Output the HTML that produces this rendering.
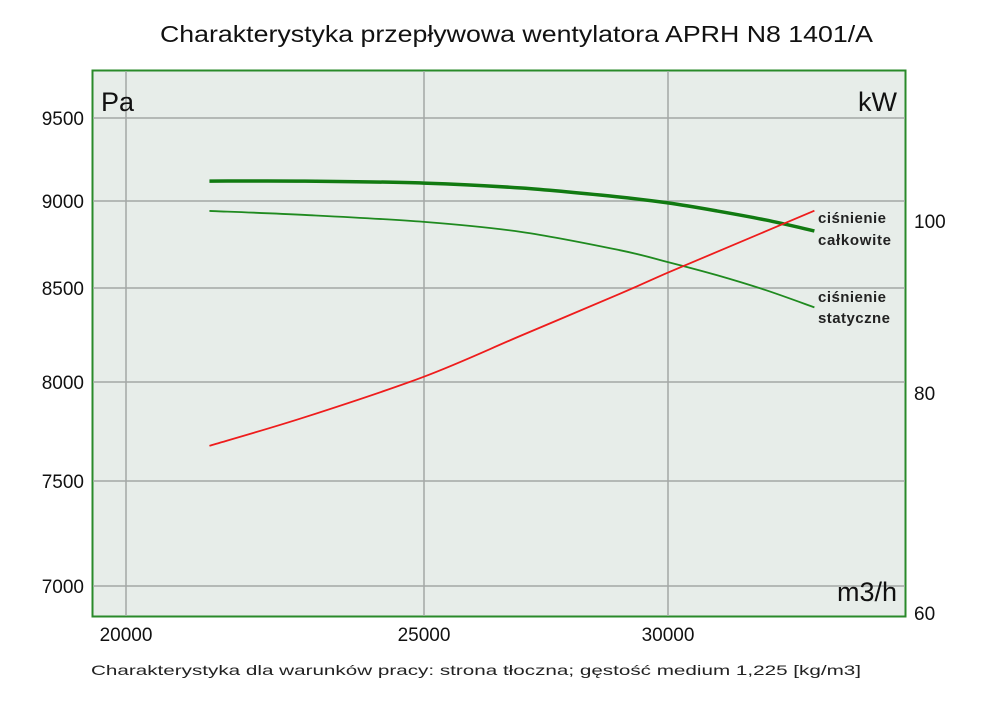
<!DOCTYPE html>
<html><head><meta charset="utf-8"><style>
body{margin:0;background:#fff;}
svg text{font-family:"Liberation Sans",sans-serif;}
</style></head><body>
<svg id="chart" width="1000" height="706" viewBox="0 0 1000 706" xmlns="http://www.w3.org/2000/svg">
<text x="160" y="42" font-size="23" textLength="713" lengthAdjust="spacingAndGlyphs" fill="#111">Charakterystyka przepływowa wentylatora APRH N8 1401/A</text>
<rect x="92.5" y="70.5" width="813" height="546" fill="#e7ede9" stroke="#2a8a2a" stroke-width="2"/>
<g id="grid"></g>
<g id="ticks"></g>
<g id="series"></g>
<text x="101" y="111" font-size="27" fill="#111">Pa</text>
<text x="897" y="111" font-size="27" text-anchor="end" fill="#111">kW</text>
<text x="897" y="601" font-size="27" text-anchor="end" fill="#111">m3/h</text>
<text x="818" y="223" font-size="15" font-weight="bold" textLength="68" fill="#222">ciśnienie</text>
<text x="818" y="245" font-size="15" font-weight="bold" textLength="73" fill="#222">całkowite</text>
<text x="818" y="302" font-size="15" font-weight="bold" textLength="68" fill="#222">ciśnienie</text>
<text x="818" y="323" font-size="15" font-weight="bold" textLength="72" fill="#222">statyczne</text>
<text x="91" y="675" font-size="14" textLength="770" lengthAdjust="spacingAndGlyphs" fill="#222">Charakterystyka dla warunków pracy: strona tłoczna; gęstość medium 1,225 [kg/m3]</text>
</svg>
<script>
const flowTicks=[20000,25000,30000];
const paTicks=[9500,9000,8500,8000,7500,7000];
const kwTicks=[100,80,60];
const flow=[21400,23000,25000,27000,29000,30000,31000,32000,33000];
const totalPa=[9120,9120,9108,9078,9024,8989,8943,8891,8828];
const staticPa=[8943,8920,8880,8822,8718,8649,8574,8489,8397];
const powerKw=[75.2,77.8,81.9,86.7,91.5,94.0,96.4,98.8,101.2];
// piecewise axis calibration (chart axes are non-linear)
const xCal=[[20000,126],[25000,424],[30000,668]];
const yCal=[[9500,118],[9000,201],[8500,288],[8000,382],[7500,481],[7000,586]];
const kCal=[[100,221],[80,393],[60,613]];
function pw(cal,v){
  const c=cal.slice().sort((a,b)=>a[0]-b[0]);
  let i=0; while(i<c.length-2 && v>c[i+1][0]) i++;
  const [a0,p0]=c[i],[a1,p1]=c[i+1];
  return p0+(v-a0)*(p1-p0)/(a1-a0);
}
const X=v=>pw(xCal,v), Y=v=>pw(yCal,v), K=v=>pw(kCal,v);
const NS="http://www.w3.org/2000/svg";
function mk(tag,attrs,parent,txt){const e=document.createElementNS(NS,tag);for(const k in attrs)e.setAttribute(k,attrs[k]);if(txt!==undefined)e.textContent=txt;parent.appendChild(e);return e;}
const grid=document.getElementById('grid'),ticks=document.getElementById('ticks'),series=document.getElementById('series');
flowTicks.forEach(v=>{
  const l=mk('line',{x1:X(v),x2:X(v),y1:71,y2:616,stroke:'#a4a8a6','stroke-width':1.5},grid);
  
  
  const t=mk('text',{x:X(v),y:641,'font-size':19,'text-anchor':'middle',fill:'#111'},ticks,v);
  
  
});
paTicks.forEach(v=>{
  const l=mk('line',{x1:93,x2:905,y1:Y(v),y2:Y(v),stroke:'#a4a8a6','stroke-width':1.5},grid);
  
  
  const t=mk('text',{x:84,y:Y(v)+7,'font-size':19,'text-anchor':'end',fill:'#111'},ticks,v);
  
  
});
kwTicks.forEach(v=>{
  const t=mk('text',{x:914,y:K(v)+7,'font-size':19,fill:'#111'},ticks,v);
  
  
});
function smooth(pts){
  let d='M'+pts[0][0]+','+pts[0][1];
  for(let i=0;i<pts.length-1;i++){
    const p0=pts[Math.max(0,i-1)],p1=pts[i],p2=pts[i+1],p3=pts[Math.min(pts.length-1,i+2)];
    const c1=[p1[0]+(p2[0]-p0[0])/6,p1[1]+(p2[1]-p0[1])/6],c2=[p2[0]-(p3[0]-p1[0])/6,p2[1]-(p3[1]-p1[1])/6];
    d+=' C'+c1.join(',')+' '+c2.join(',')+' '+p2.join(',');
  }
  return d;
}
const s1=mk('path',{d:smooth(flow.map((f,i)=>[X(f),Y(staticPa[i])])),fill:'none',stroke:'#1f8a1f','stroke-width':1.8},series);


const s2=mk('path',{d:smooth(flow.map((f,i)=>[X(f),Y(totalPa[i])])),fill:'none',stroke:'#117a11','stroke-width':3.5},series);


const s3=mk('path',{d:smooth(flow.map((f,i)=>[X(f),K(powerKw[i])])),fill:'none',stroke:'#ee1c1c','stroke-width':1.8},series);


</script>
</body></html>
